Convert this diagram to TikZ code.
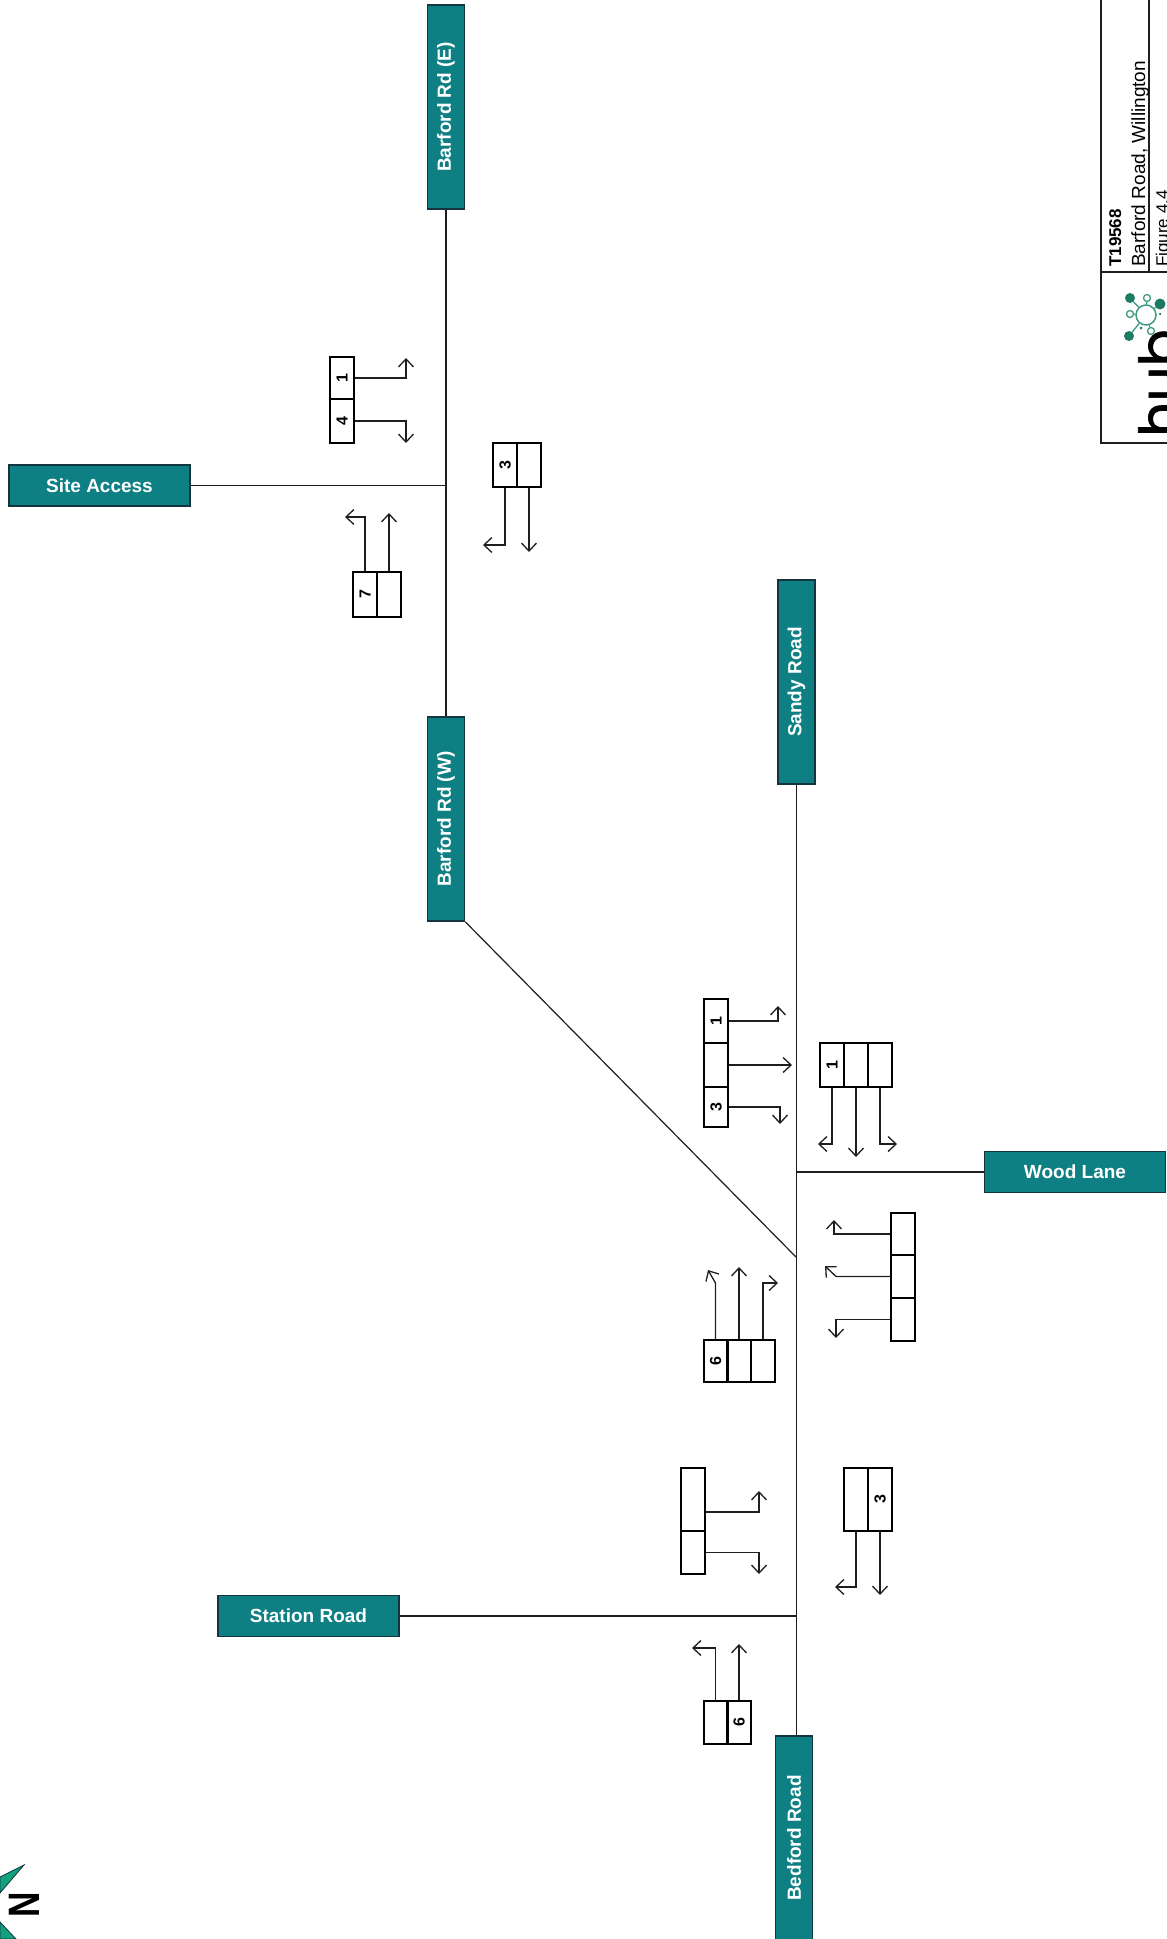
\documentclass[tikz,border=0pt]{standalone}
\usepackage{fontspec}
\usepackage{graphicx}
\setmainfont{Liberation Sans}
\newfontfamily\hubfont[FakeBold=1.2]{Poppins}
\usetikzlibrary{arrows.meta,calc}
\definecolor{roadteal}{HTML}{0E8083}
\definecolor{roadedge}{HTML}{14343F}
\definecolor{inkline}{HTML}{1E1E1E}
\definecolor{molfill}{HTML}{1F7A63}
\definecolor{molline}{HTML}{3F9A82}
\definecolor{starfill}{HTML}{12A07E}
\newcommand{\fs}[1]{\fontsize{#1}{#1}\selectfont}
\newcommand{\lbl}[1]{\rotatebox{90}{\fs{16}\bfseries #1}}
\tikzset{
  roadh/.style={draw=roadedge,line width=1.5pt,fill=roadteal,text=white,font=\fs{19}\bfseries,
    minimum width=181pt,minimum height=41pt,inner sep=0pt},
  roadv/.style={roadh,rotate=90,minimum width=204pt,minimum height=37pt},
  road/.style={draw=inkline,line width=1.2pt},
  cell/.style 2 args={draw=black,line width=2pt,minimum width=#1pt,minimum height=#2pt,inner sep=0pt},
  arr/.style={draw=inkline,line width=1.3pt,-{Straight Barb[length=8pt,width=15pt,line width=1.3pt]}},
  frameline/.style={draw=inkline,line width=1.6pt},
  ttl/.style={rotate=90,anchor=base west,inner sep=0pt,text=black},
  hubdot/.style={circle,fill=molfill,inner sep=0pt,minimum size=#1pt},
  hubring/.style={circle,draw=molline,fill=white,line width=1.3pt,inner sep=0pt,minimum size=#1pt},
}
\begin{document}
\begin{tikzpicture}[x=1pt,y=-1pt]
\useasboundingbox (0,0) rectangle (1167,1939);

% road nodes
\node[roadv] (barfE) at (446,107) {Barford Rd (E)};
\node[roadv] (barfW) at (446,819) {Barford Rd (W)};
\node[roadv] (sandy) at (796.5,682) {Sandy Road};
\node[roadv] (bedford) at (794,1838) {Bedford Road};
\node[roadh] (site) at (99.5,485.5) {Site Access};
\node[roadh] (wood) at (1075,1172) {Wood Lane};
\node[roadh] (station) at (308.5,1616) {Station Road};
\coordinate (merge) at (796,1257);

% road lines
\draw[road] (barfE.west) -- (barfE.west |- barfW.east);
\draw[road] (site.east) -- (site.east -| barfE);
\draw[road] (sandy.west) -- (sandy.west |- bedford.east);
\draw[road] (wood.west) -- (wood.west -| sandy.west);
\draw[road] (station.east) -- (station.east -| sandy.west);
\draw[road] (barfW.south west) -- (merge);

% lane box A
\node[cell={24}{44}] (a1) at (716,1021) {\lbl{1}};
\node[cell={24}{44}] (a2) at (716,1065) {};
\node[cell={24}{40}] (a3) at (716,1107) {\lbl{3}};
\coordinate (a1t) at (778,1006);
\coordinate (a2t) at (792,1065);
\coordinate (a3t) at (780,1124);
\draw[arr] (a1.east) -| (a1t);
\draw[arr] (a2.east) -- (a2t);
\draw[arr] (a3.east) -| (a3t);

% lane box B
\node[cell={24}{44}] (b1) at (832,1065) {\lbl{1}};
\node[cell={24}{44}] (b2) at (856,1065) {};
\node[cell={24}{44}] (b3) at (880,1065) {};
\coordinate (b1t) at (818,1144);
\coordinate (b2t) at (856,1157);
\coordinate (b3t) at (897,1144);
\draw[arr] (b1.south) |- (b1t);
\draw[arr] (b2.south) -- (b2t);
\draw[arr] (b3.south) |- (b3t);

% lane box C
\node[cell={24}{42}] (c1) at (903,1234) {};
\node[cell={24}{43}] (c2) at (903,1276.5) {};
\node[cell={24}{43}] (c3) at (903,1319.5) {};
\coordinate (c1t) at (834,1220);
\coordinate (c2b) at (836,1276.5);
\coordinate (c2t) at (825,1266);
\coordinate (c3t) at (836,1338);
\draw[arr] (c1.west) -| (c1t);
\draw[arr] (c2.west) -- (c2b) -- (c2t);
\draw[arr] (c3.west) -| (c3t);

% lane box D
\node[cell={24}{42}] (d1) at (715.5,1361) {\lbl{6}};
\node[cell={24}{42}] (d2) at (739,1361) {};
\node[cell={24}{42}] (d3) at (763,1361) {};
\coordinate (d1b) at (715.5,1283);
\coordinate (d1t) at (708,1270);
\coordinate (d2t) at (739,1267);
\coordinate (d3t) at (778,1283);
\draw[arr] (d1.north) -- (d1b) -- (d1t);
\draw[arr] (d2.north) -- (d2t);
\draw[arr] (d3.north) |- (d3t);

% lane box E
\node[cell={24}{42}] (e1) at (342,378) {\lbl{1}};
\node[cell={24}{44}] (e2) at (342,421) {\lbl{4}};
\coordinate (e1t) at (406,358);
\coordinate (e2t) at (406,443);
\draw[arr] (e1.east) -| (e1t);
\draw[arr] (e2.east) -| (e2t);

% lane box F
\node[cell={24}{45}] (f1) at (365,594.5) {\lbl{7}};
\node[cell={24}{45}] (f2) at (389,594.5) {};
\coordinate (f1t) at (345,517);
\coordinate (f2t) at (389,513);
\draw[arr] (f1.north) |- (f1t);
\draw[arr] (f2.north) -- (f2t);

% lane box G
\node[cell={24}{44}] (g1) at (505,465) {\lbl{3}};
\node[cell={24}{44}] (g2) at (529,465) {};
\coordinate (g1t) at (483,545);
\coordinate (g2t) at (529,552);
\draw[arr] (g1.south) |- (g1t);
\draw[arr] (g2.south) -- (g2t);

% lane box H
\node[cell={24}{63}] (h1) at (693,1499.5) {};
\node[cell={24}{43}] (h2) at (693,1552.5) {};
\coordinate (h1t) at (759,1491);
\coordinate (h2t) at (759,1574);
\draw[arr] ([yshift=-12.5pt]h1.east) -| (h1t);
\draw[arr] (h2.east) -| (h2t);

% lane box I
\node[cell={24}{63}] (i1) at (856,1499.5) {};
\node[cell={24}{63}] (i2) at (880,1499.5) {\lbl{3}};
\coordinate (i1t) at (835,1587);
\coordinate (i2t) at (880,1595);
\draw[arr] (i1.south) |- (i1t);
\draw[arr] (i2.south) -- (i2t);

% lane box J
\node[cell={24}{43}] (j1) at (715.5,1722.5) {};
\node[cell={24}{43}] (j2) at (739,1722.5) {\lbl{6}};
\coordinate (j1t) at (692,1648);
\coordinate (j2t) at (739,1644);
\draw[arr] (j1.north) |- (j1t);
\draw[arr] (j2.north) -- (j2t);

% title block
\draw[frameline] (1101,0) -- (1101,443) -- (1167,443);
\draw[frameline] (1101,272) -- (1167,272);
\draw[frameline] (1149,0) -- (1149,272);
\node[ttl,font=\fs{17}\bfseries] (tno) at (1121,267) {T19568};
\node[ttl,font=\fs{19}] (tname) at (1145,267) {Barford Road, Willington};
\node[ttl,font=\fs{17}] (tfig) at (1168,267) {Figure 4.4};

% logo
\node[ttl,font=\fs{55}\hubfont] (hub) at (1179,437) {hub};
\node[circle,draw=molline,line width=1.5pt,fill=white,minimum size=20pt,inner sep=0pt] (hc) at (1146,315) {};
\node[hubdot=10] (m1) at (1130,298) {};
\node[hubdot=11] (m2) at (1160,304) {};
\node[hubdot=10] (m3) at (1129,336) {};
\node[hubring=7] (m4) at (1147,298) {};
\node[hubring=7] (m5) at (1130,314) {};
\node[hubring=7] (m6) at (1151,331) {};
\node[hubdot=2.5] (m7) at (1160,314) {};
\node[hubdot=3] (m8) at (1141,328) {};
\foreach \m in {m1,m2,m3,m4,m5,m6}
  \draw[molline,line width=1.3pt] (hc) -- (\m);

% north arrow
\draw[draw=roadedge,fill=starfill,line width=0.8pt] (24,1865) -- (0,1877) -- (0,1893) -- cycle;
\draw[draw=roadedge,fill=starfill,line width=0.8pt] (0,1922) -- (16,1939) -- (0,1939) -- cycle;
\node[inner sep=0pt] (north) at (24,1905) {\rotatebox{90}{\scalebox{0.8}[1]{\fs{44}\bfseries N}}};
\end{tikzpicture}
\end{document}
